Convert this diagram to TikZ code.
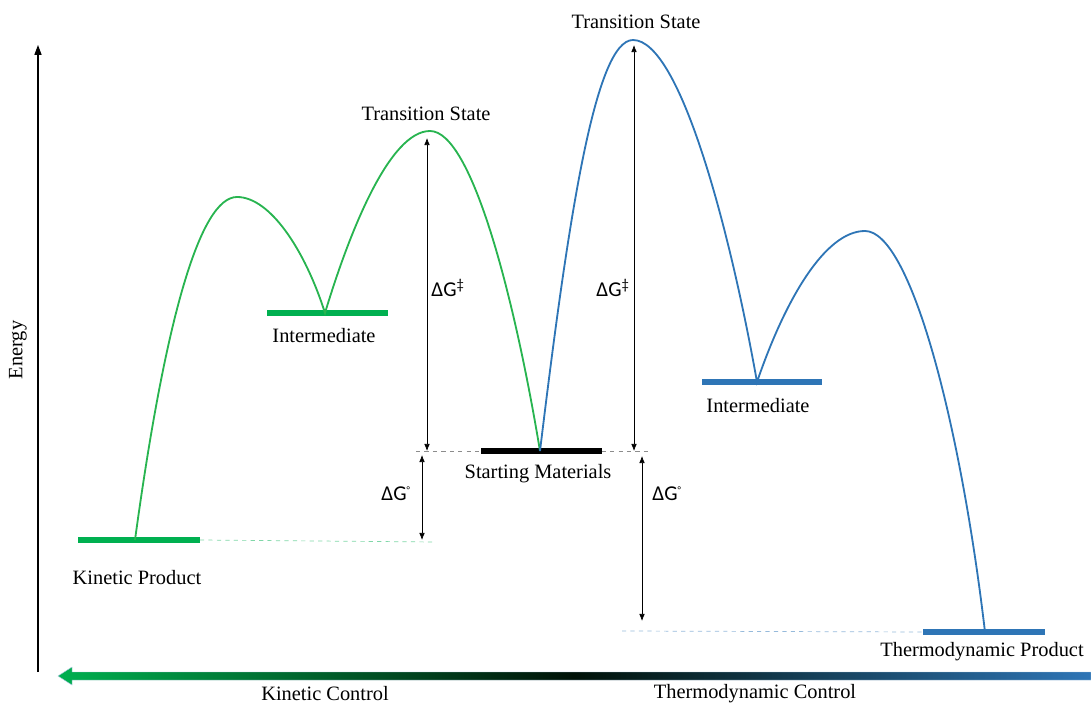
\documentclass[tikz,border=0pt]{standalone}
\usepackage{fontspec}
\setmainfont{Liberation Serif}
\newfontfamily\calibri{Carlito}
\usetikzlibrary{arrows.meta}
\definecolor{kgreen}{RGB}{0,176,80}
\definecolor{cgreen}{RGB}{40,180,80}
\definecolor{tblue}{RGB}{46,117,182}
\tikzset{
  level/.style={line width=4pt},
  dgarrow/.style={{Latex[length=5pt,width=4pt]}-{Latex[length=5pt,width=4pt]}, line width=0.5pt},
  lbl/.style={font=\fontsize{14.5}{17}\selectfont},
  dglbl/.style={font=\calibri\fontsize{15}{18}\selectfont},
}
\begin{document}
\begin{tikzpicture}[x=0.025cm,y=-0.025cm]
    \useasboundingbox (0,0) rectangle (1091,707);

    % energy axis
    \draw[-{Triangle[length=7pt,width=5pt]}, line width=0.8pt] (38,672) -- (38,45);
    \node[lbl, rotate=90] (energy) at (18,350) {Energy};

    % control arrow
    \shadedraw[left color=kgreen, right color=tblue, middle color=black!90!kgreen, draw=tblue!40, line width=0.3pt]
        (1091,672) -- (72,672) -- (72,667) -- (58,676) -- (72,685) -- (72,680) -- (1091,680) -- cycle;
    \node[lbl] (kc) at (325,694) {Kinetic Control};
    \node[lbl] (tc) at (755,694) {Thermodynamic Control};

    % reference lines
    \draw[dashed, black!45, line width=0.5pt] (416,451) -- (650,451);
    \draw[dashed, kgreen!50, line width=0.5pt] (200,540) -- (435,542);
    \draw[dashed, tblue!50, line width=0.5pt] (622,631) -- (923,632);

    % levels
    \draw[level, kgreen] (78,540) -- (200,540);
    \draw[level, kgreen] (267,313) -- (388,313);
    \draw[level, black] (481,451) -- (602,451);
    \draw[level, tblue] (702,382) -- (822,382);
    \draw[level, tblue] (923,632) -- (1045,632);

    \coordinate (kp) at (135,540);
    \coordinate (ts0) at (237,197);
    \coordinate (int1) at (325,313);
    \coordinate (ts1) at (430,131);
    \coordinate (sm) at (540,451);
    \coordinate (ts2) at (633,40);
    \coordinate (int2) at (757,382);
    \coordinate (ts3) at (865,231);
    \coordinate (tp) at (985,632);

    % kinetic path
    \draw[cgreen, line width=1.3pt] (kp) .. controls (165,320) and (200,197) .. (ts0)
        .. controls (270,197) and (305,250) .. (int1)
        .. controls (350,230) and (390,131) .. (ts1)
        .. controls (472,131) and (515,300) .. (sm);
    % thermodynamic path
    \draw[tblue, line width=1.3pt] (sm) .. controls (568,220) and (595,40) .. (ts2)
        .. controls (680,40) and (730,230) .. (int2)
        .. controls (785,300) and (825,231) .. (ts3)
        .. controls (910,231) and (960,420) .. (tp);

    \node[lbl] (kpl) at (137,578) {Kinetic Product};
    \node[lbl] (int1l) at (324,336) {Intermediate};
    \node[lbl] (sml) at (538,474) {Starting Materials};
    \node[lbl] (int2l) at (758,406) {Intermediate};
    \node[lbl] (tpl) at (982,652) {Thermodynamic Product};
    \node[lbl] (ts1l) at (426,114) {Transition State};
    \node[lbl] (ts2l) at (636,22) {Transition State};

    % energy differences
    \draw[dgarrow] (427,138) -- (427,451);
    \node[dglbl] (dga1) at (448,288) {ΔG\textsuperscript{‡}};
    \draw[dgarrow] (634,45) -- (634,451);
    \node[dglbl] (dga2) at (613,288) {ΔG\textsuperscript{‡}};
    \draw[dgarrow] (422,455) -- (422,540);
    \node[dglbl] (dgo1) at (396,494) {ΔG\textsuperscript{\scriptsize°}};
    \draw[dgarrow] (642,456) -- (642,621);
    \node[dglbl] (dgo2) at (667,494) {ΔG\textsuperscript{\scriptsize°}};
\end{tikzpicture}
\end{document}
